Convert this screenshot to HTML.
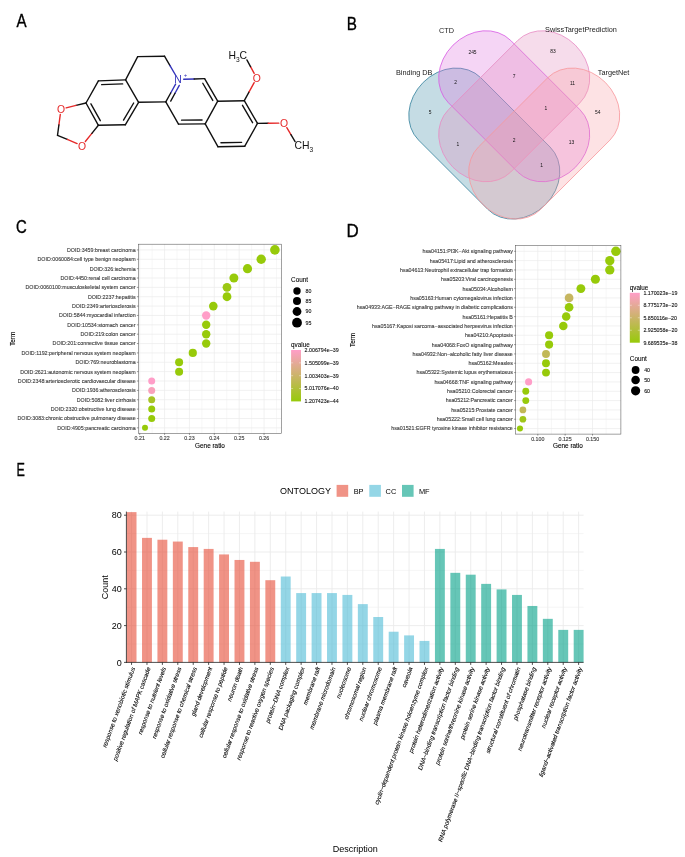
<!DOCTYPE html>
<html lang="en"><head><meta charset="utf-8"><title>Figure</title>
<style>
html,body{margin:0;padding:0;background:#fff;}
body{width:685px;height:857px;overflow:hidden;}
svg{display:block;}
text{font-family:"Liberation Sans", sans-serif;}
.pl{font-size:18.4px;fill:#000;stroke:#000;stroke-width:0.35px;}
.at{font-size:10.4px;}
</style></head><body>
<svg width="685" height="857" viewBox="0 0 685 857">
<rect width="685" height="857" fill="#ffffff"/>
<text class="pl" x="16.6" y="27.0" textLength="10.1" lengthAdjust="spacingAndGlyphs">A</text>
<text class="pl" x="346.7" y="29.8" textLength="10.2" lengthAdjust="spacingAndGlyphs">B</text>
<text class="pl" x="15.9" y="233.0" textLength="10.75" lengthAdjust="spacingAndGlyphs">C</text>
<text class="pl" x="346.6" y="237.0" textLength="12.2" lengthAdjust="spacingAndGlyphs">D</text>
<text class="pl" x="16.4" y="475.7" textLength="8.4" lengthAdjust="spacingAndGlyphs">E</text>
<g stroke-width="1.38" stroke-linecap="round" fill="none">
<line x1="98.40" y1="80.90" x2="125.60" y2="79.90" stroke="#111111"/>
<line x1="101.64" y1="84.68" x2="122.65" y2="83.91" stroke="#111111"/>
<line x1="125.60" y1="79.90" x2="138.60" y2="102.30" stroke="#111111"/>
<line x1="138.60" y1="102.30" x2="125.30" y2="124.80" stroke="#111111"/>
<line x1="133.67" y1="102.98" x2="123.52" y2="120.15" stroke="#111111"/>
<line x1="125.30" y1="124.80" x2="98.40" y2="125.30" stroke="#111111"/>
<line x1="98.40" y1="125.30" x2="86.00" y2="103.00" stroke="#111111"/>
<line x1="100.30" y1="120.70" x2="90.92" y2="103.81" stroke="#111111"/>
<line x1="86.00" y1="103.00" x2="98.40" y2="80.90" stroke="#111111"/>
<line x1="125.60" y1="79.90" x2="137.70" y2="56.60" stroke="#111111"/>
<line x1="137.70" y1="56.60" x2="164.50" y2="56.20" stroke="#111111"/>
<line x1="164.50" y1="56.20" x2="169.99" y2="65.60" stroke="#111111"/>
<line x1="169.99" y1="65.60" x2="175.48" y2="75.01" stroke="#3333bb"/>
<line x1="175.60" y1="84.06" x2="170.70" y2="92.98" stroke="#3333bb"/>
<line x1="170.70" y1="92.98" x2="165.80" y2="101.90" stroke="#111111"/>
<line x1="179.30" y1="85.41" x2="175.01" y2="93.23" stroke="#3333bb"/>
<line x1="175.01" y1="93.23" x2="170.71" y2="101.06" stroke="#111111"/>
<line x1="165.80" y1="101.90" x2="138.60" y2="102.30" stroke="#111111"/>
<line x1="183.70" y1="79.31" x2="194.15" y2="78.95" stroke="#3333bb"/>
<line x1="194.15" y1="78.95" x2="204.60" y2="78.60" stroke="#111111"/>
<line x1="204.60" y1="78.60" x2="217.70" y2="101.20" stroke="#111111"/>
<line x1="202.78" y1="83.24" x2="212.77" y2="100.47" stroke="#111111"/>
<line x1="217.70" y1="101.20" x2="205.20" y2="123.90" stroke="#111111"/>
<line x1="205.20" y1="123.90" x2="178.50" y2="124.10" stroke="#111111"/>
<line x1="202.07" y1="120.02" x2="181.57" y2="120.18" stroke="#111111"/>
<line x1="178.50" y1="124.10" x2="165.80" y2="101.90" stroke="#111111"/>
<line x1="217.70" y1="101.20" x2="244.30" y2="100.70" stroke="#111111"/>
<line x1="244.30" y1="100.70" x2="257.50" y2="123.40" stroke="#111111"/>
<line x1="242.49" y1="105.34" x2="252.57" y2="122.68" stroke="#111111"/>
<line x1="257.50" y1="123.40" x2="244.80" y2="146.20" stroke="#111111"/>
<line x1="244.80" y1="146.20" x2="217.90" y2="146.70" stroke="#111111"/>
<line x1="241.63" y1="142.36" x2="220.93" y2="142.74" stroke="#111111"/>
<line x1="217.90" y1="146.70" x2="205.20" y2="123.90" stroke="#111111"/>
<line x1="244.30" y1="100.70" x2="249.23" y2="91.68" stroke="#111111"/>
<line x1="249.23" y1="91.68" x2="254.16" y2="82.65" stroke="#e52828"/>
<line x1="254.17" y1="73.34" x2="250.53" y2="66.61" stroke="#e52828"/>
<line x1="250.53" y1="66.61" x2="246.88" y2="59.88" stroke="#111111"/>
<line x1="257.50" y1="123.40" x2="268.15" y2="123.28" stroke="#111111"/>
<line x1="268.15" y1="123.28" x2="278.80" y2="123.16" stroke="#e52828"/>
<line x1="286.81" y1="127.65" x2="290.95" y2="134.60" stroke="#e52828"/>
<line x1="290.95" y1="134.60" x2="295.09" y2="141.54" stroke="#111111"/>
<line x1="86.00" y1="103.00" x2="76.07" y2="105.42" stroke="#111111"/>
<line x1="76.07" y1="105.42" x2="66.15" y2="107.84" stroke="#e52828"/>
<line x1="60.30" y1="114.35" x2="58.90" y2="124.83" stroke="#e52828"/>
<line x1="58.90" y1="124.83" x2="57.50" y2="135.30" stroke="#111111"/>
<line x1="57.50" y1="135.30" x2="67.31" y2="139.42" stroke="#111111"/>
<line x1="67.31" y1="139.42" x2="77.11" y2="143.55" stroke="#e52828"/>
<line x1="85.33" y1="141.48" x2="91.87" y2="133.39" stroke="#e52828"/>
<line x1="91.87" y1="133.39" x2="98.40" y2="125.30" stroke="#111111"/>
</g>
<text class="at" x="256.70" y="81.90" fill="#e52828" text-anchor="middle">O</text>
<text class="at" x="284.10" y="127.00" fill="#e52828" text-anchor="middle">O</text>
<text class="at" x="61.00" y="113.00" fill="#e52828" text-anchor="middle">O</text>
<text class="at" x="82.00" y="149.50" fill="#e52828" text-anchor="middle">O</text>
<text class="at" x="178.10" y="83.40" fill="#3333bb" text-anchor="middle">N</text>
<text x="183.70" y="76.60" fill="#3333bb" font-size="6" >+</text>
<text class="at" x="247.1" y="59.2" fill="#111111" text-anchor="end">H<tspan font-size="6.6" dy="2.6">3</tspan><tspan dy="-2.6">C</tspan></text>
<text class="at" x="294.4" y="149.4" fill="#111111">CH<tspan font-size="6.6" dy="2.6">3</tspan></text>
<g>
<rect x="-86.45" y="-44.05" width="172.90" height="88.10" rx="37.5" ry="44.05" transform="translate(484.30 143.55) rotate(45)" fill="rgba(62,138,165,0.3)" stroke="rgba(50,128,155,0.95)" stroke-width="0.8"/>
<rect x="-86.45" y="-44.05" width="172.90" height="88.10" rx="37.5" ry="44.05" transform="translate(514.20 106.25) rotate(45)" fill="rgba(222,115,222,0.3)" stroke="rgba(215,90,228,0.95)" stroke-width="0.8"/>
<rect x="-86.45" y="-44.05" width="172.90" height="88.10" rx="37.5" ry="44.05" transform="translate(514.20 106.25) rotate(-45)" fill="rgba(226,138,190,0.3)" stroke="rgba(231,138,195,0.95)" stroke-width="0.8"/>
<rect x="-86.45" y="-44.05" width="172.90" height="88.10" rx="37.5" ry="44.05" transform="translate(544.20 143.55) rotate(-45)" fill="rgba(250,160,165,0.3)" stroke="rgba(248,150,155,0.95)" stroke-width="0.8"/>
</g>
<g font-size="7.3" fill="#222" text-anchor="middle">
<text x="446.6" y="32.7">CTD</text>
<text x="581.0" y="32.4">SwissTargetPrediction</text>
<text x="414.2" y="75.0">Binding DB</text>
<text x="613.6" y="75.0">TargetNet</text>
</g>
<g font-size="4.9" fill="#111" text-anchor="middle">
<text x="472.5" y="54.1">245</text>
<text x="553.1" y="52.5">83</text>
<text x="514.1" y="78.0">7</text>
<text x="455.7" y="84.0">2</text>
<text x="572.5" y="84.7">11</text>
<text x="430.1" y="113.5">5</text>
<text x="545.8" y="109.8">1</text>
<text x="597.7" y="113.5">54</text>
<text x="457.9" y="145.9">1</text>
<text x="514.1" y="141.6">2</text>
<text x="571.4" y="144.2">13</text>
<text x="541.5" y="167.2">1</text>
</g>
<g stroke="#ebebeb" fill="none">
<line x1="152.13" y1="244.2" x2="152.13" y2="433.4" stroke-width="0.4"/>
<line x1="177.01" y1="244.2" x2="177.01" y2="433.4" stroke-width="0.4"/>
<line x1="201.87" y1="244.2" x2="201.87" y2="433.4" stroke-width="0.4"/>
<line x1="226.75" y1="244.2" x2="226.75" y2="433.4" stroke-width="0.4"/>
<line x1="251.62" y1="244.2" x2="251.62" y2="433.4" stroke-width="0.4"/>
<line x1="276.49" y1="244.2" x2="276.49" y2="433.4" stroke-width="0.4"/>
<line x1="139.70" y1="244.2" x2="139.70" y2="433.4" stroke-width="0.7"/>
<line x1="164.57" y1="244.2" x2="164.57" y2="433.4" stroke-width="0.7"/>
<line x1="189.44" y1="244.2" x2="189.44" y2="433.4" stroke-width="0.7"/>
<line x1="214.31" y1="244.2" x2="214.31" y2="433.4" stroke-width="0.7"/>
<line x1="239.18" y1="244.2" x2="239.18" y2="433.4" stroke-width="0.7"/>
<line x1="264.05" y1="244.2" x2="264.05" y2="433.4" stroke-width="0.7"/>
<line x1="138.4" y1="249.90" x2="281.4" y2="249.90" stroke-width="0.7"/>
<line x1="138.4" y1="259.26" x2="281.4" y2="259.26" stroke-width="0.7"/>
<line x1="138.4" y1="268.63" x2="281.4" y2="268.63" stroke-width="0.7"/>
<line x1="138.4" y1="278.00" x2="281.4" y2="278.00" stroke-width="0.7"/>
<line x1="138.4" y1="287.36" x2="281.4" y2="287.36" stroke-width="0.7"/>
<line x1="138.4" y1="296.73" x2="281.4" y2="296.73" stroke-width="0.7"/>
<line x1="138.4" y1="306.09" x2="281.4" y2="306.09" stroke-width="0.7"/>
<line x1="138.4" y1="315.46" x2="281.4" y2="315.46" stroke-width="0.7"/>
<line x1="138.4" y1="324.82" x2="281.4" y2="324.82" stroke-width="0.7"/>
<line x1="138.4" y1="334.19" x2="281.4" y2="334.19" stroke-width="0.7"/>
<line x1="138.4" y1="343.55" x2="281.4" y2="343.55" stroke-width="0.7"/>
<line x1="138.4" y1="352.92" x2="281.4" y2="352.92" stroke-width="0.7"/>
<line x1="138.4" y1="362.28" x2="281.4" y2="362.28" stroke-width="0.7"/>
<line x1="138.4" y1="371.64" x2="281.4" y2="371.64" stroke-width="0.7"/>
<line x1="138.4" y1="381.01" x2="281.4" y2="381.01" stroke-width="0.7"/>
<line x1="138.4" y1="390.38" x2="281.4" y2="390.38" stroke-width="0.7"/>
<line x1="138.4" y1="399.74" x2="281.4" y2="399.74" stroke-width="0.7"/>
<line x1="138.4" y1="409.11" x2="281.4" y2="409.11" stroke-width="0.7"/>
<line x1="138.4" y1="418.47" x2="281.4" y2="418.47" stroke-width="0.7"/>
<line x1="138.4" y1="427.84" x2="281.4" y2="427.84" stroke-width="0.7"/>
</g>
<circle cx="274.90" cy="249.90" r="4.80" fill="rgb(151,202,10)"/>
<circle cx="261.20" cy="259.26" r="4.70" fill="rgb(151,202,10)"/>
<circle cx="247.50" cy="268.63" r="4.60" fill="rgb(151,202,10)"/>
<circle cx="233.90" cy="278.00" r="4.50" fill="rgb(151,202,10)"/>
<circle cx="227.00" cy="287.36" r="4.40" fill="rgb(156,200,20)"/>
<circle cx="227.00" cy="296.73" r="4.40" fill="rgb(151,202,10)"/>
<circle cx="213.30" cy="306.09" r="4.30" fill="rgb(151,202,10)"/>
<circle cx="206.20" cy="315.46" r="4.20" fill="rgb(255,158,200)"/>
<circle cx="206.20" cy="324.82" r="4.20" fill="rgb(151,202,10)"/>
<circle cx="206.20" cy="334.19" r="4.20" fill="rgb(151,202,10)"/>
<circle cx="206.20" cy="343.55" r="4.20" fill="rgb(151,202,10)"/>
<circle cx="192.80" cy="352.92" r="4.10" fill="rgb(151,202,10)"/>
<circle cx="179.10" cy="362.28" r="4.00" fill="rgb(151,202,10)"/>
<circle cx="179.10" cy="371.64" r="4.00" fill="rgb(151,202,10)"/>
<circle cx="151.70" cy="381.01" r="3.50" fill="rgb(255,158,200)"/>
<circle cx="151.70" cy="390.38" r="3.50" fill="rgb(248,161,187)"/>
<circle cx="151.70" cy="399.74" r="3.50" fill="rgb(167,195,38)"/>
<circle cx="151.70" cy="409.11" r="3.50" fill="rgb(151,202,10)"/>
<circle cx="151.70" cy="418.47" r="3.50" fill="rgb(151,202,10)"/>
<circle cx="145.00" cy="427.84" r="3.00" fill="rgb(151,202,10)"/>
<rect x="138.4" y="244.2" width="143.00" height="189.20" fill="none" stroke="#555" stroke-width="0.55"/>
<g stroke="#333" stroke-width="0.5">
<line x1="136.90" y1="249.90" x2="138.4" y2="249.90"/>
<line x1="136.90" y1="259.26" x2="138.4" y2="259.26"/>
<line x1="136.90" y1="268.63" x2="138.4" y2="268.63"/>
<line x1="136.90" y1="278.00" x2="138.4" y2="278.00"/>
<line x1="136.90" y1="287.36" x2="138.4" y2="287.36"/>
<line x1="136.90" y1="296.73" x2="138.4" y2="296.73"/>
<line x1="136.90" y1="306.09" x2="138.4" y2="306.09"/>
<line x1="136.90" y1="315.46" x2="138.4" y2="315.46"/>
<line x1="136.90" y1="324.82" x2="138.4" y2="324.82"/>
<line x1="136.90" y1="334.19" x2="138.4" y2="334.19"/>
<line x1="136.90" y1="343.55" x2="138.4" y2="343.55"/>
<line x1="136.90" y1="352.92" x2="138.4" y2="352.92"/>
<line x1="136.90" y1="362.28" x2="138.4" y2="362.28"/>
<line x1="136.90" y1="371.64" x2="138.4" y2="371.64"/>
<line x1="136.90" y1="381.01" x2="138.4" y2="381.01"/>
<line x1="136.90" y1="390.38" x2="138.4" y2="390.38"/>
<line x1="136.90" y1="399.74" x2="138.4" y2="399.74"/>
<line x1="136.90" y1="409.11" x2="138.4" y2="409.11"/>
<line x1="136.90" y1="418.47" x2="138.4" y2="418.47"/>
<line x1="136.90" y1="427.84" x2="138.4" y2="427.84"/>
<line x1="139.70" y1="433.4" x2="139.70" y2="434.90"/>
<line x1="164.57" y1="433.4" x2="164.57" y2="434.90"/>
<line x1="189.44" y1="433.4" x2="189.44" y2="434.90"/>
<line x1="214.31" y1="433.4" x2="214.31" y2="434.90"/>
<line x1="239.18" y1="433.4" x2="239.18" y2="434.90"/>
<line x1="264.05" y1="433.4" x2="264.05" y2="434.90"/>
</g>
<g font-size="5.3" fill="#3d3d3d" stroke="#3d3d3d" stroke-width="0.12" text-anchor="end">
<text x="135.60" y="251.81">DOID:3459:breast carcinoma</text>
<text x="135.60" y="261.17">DOID:0060084:cell type benign neoplasm</text>
<text x="135.60" y="270.54">DOID:326:ischemia</text>
<text x="135.60" y="279.90">DOID:4450:renal cell carcinoma</text>
<text x="135.60" y="289.27">DOID:0060100:musculoskeletal system cancer</text>
<text x="135.60" y="298.63">DOID:2237:hepatitis</text>
<text x="135.60" y="308.00">DOID:2349:arteriosclerosis</text>
<text x="135.60" y="317.36">DOID:5844:myocardial infarction</text>
<text x="135.60" y="326.73">DOID:10534:stomach cancer</text>
<text x="135.60" y="336.09">DOID:219:colon cancer</text>
<text x="135.60" y="345.46">DOID:201:connective tissue cancer</text>
<text x="135.60" y="354.82">DOID:1192:peripheral nervous system neoplasm</text>
<text x="135.60" y="364.19">DOID:769:neuroblastoma</text>
<text x="135.60" y="373.55">DOID:2621:autonomic nervous system neoplasm</text>
<text x="135.60" y="382.92">DOID:2348:arteriosclerotic cardiovascular disease</text>
<text x="135.60" y="392.28">DOID:1936:atherosclerosis</text>
<text x="135.60" y="401.65">DOID:5082:liver cirrhosis</text>
<text x="135.60" y="411.01">DOID:2320:obstructive lung disease</text>
<text x="135.60" y="420.38">DOID:3083:chronic obstructive pulmonary disease</text>
<text x="135.60" y="429.74">DOID:4905:pancreatic carcinoma</text>
</g>
<g font-size="5.3" fill="#3d3d3d" stroke="#3d3d3d" stroke-width="0.12" text-anchor="middle">
<text x="139.70" y="440.22">0.21</text>
<text x="164.57" y="440.22">0.22</text>
<text x="189.44" y="440.22">0.23</text>
<text x="214.31" y="440.22">0.24</text>
<text x="239.18" y="440.22">0.25</text>
<text x="264.05" y="440.22">0.26</text>
</g>
<text x="210.0" y="447.9" font-size="6.4" text-anchor="middle" fill="#000" stroke="#000" stroke-width="0.1">Gene ratio</text>
<text transform="translate(14.9 338.8) rotate(-90)" font-size="6.3" text-anchor="middle" fill="#000" stroke="#000" stroke-width="0.1">Term</text>
<text x="291.1" y="281.9" font-size="6.4" fill="#000" stroke="#000" stroke-width="0.08">Count</text>
<circle cx="297.0" cy="291.0" r="3.7" fill="#000"/>
<text x="305.5" y="292.91" font-size="5.3" fill="#111" stroke="#111" stroke-width="0.1">80</text>
<circle cx="297.0" cy="301.1" r="4.0" fill="#000"/>
<text x="305.5" y="303.01" font-size="5.3" fill="#111" stroke="#111" stroke-width="0.1">85</text>
<circle cx="297.0" cy="311.5" r="4.4" fill="#000"/>
<text x="305.5" y="313.41" font-size="5.3" fill="#111" stroke="#111" stroke-width="0.1">90</text>
<circle cx="297.0" cy="322.7" r="4.9" fill="#000"/>
<text x="305.5" y="324.61" font-size="5.3" fill="#111" stroke="#111" stroke-width="0.1">95</text>
<text x="291.1" y="346.6" font-size="6.3" fill="#000" stroke="#000" stroke-width="0.08">qvalue</text>
<defs><linearGradient id="gc" x1="0" y1="0" x2="0" y2="1"><stop offset="0" stop-color="rgb(255,158,200)"/><stop offset="1" stop-color="rgb(151,202,10)"/></linearGradient></defs>
<rect x="291.1" y="350.0" width="9.90" height="51.40" fill="url(#gc)"/>
<text x="304.6" y="351.91" font-size="5.3" fill="#111" stroke="#111" stroke-width="0.1">2.006794e−39</text>
<line x1="291.1" y1="362.85" x2="293.1" y2="362.85" stroke="#fff" stroke-width="0.4"/>
<line x1="299.0" y1="362.85" x2="301.0" y2="362.85" stroke="#fff" stroke-width="0.4"/>
<text x="304.6" y="364.76" font-size="5.3" fill="#111" stroke="#111" stroke-width="0.1">1.505099e−39</text>
<line x1="291.1" y1="375.70" x2="293.1" y2="375.70" stroke="#fff" stroke-width="0.4"/>
<line x1="299.0" y1="375.70" x2="301.0" y2="375.70" stroke="#fff" stroke-width="0.4"/>
<text x="304.6" y="377.61" font-size="5.3" fill="#111" stroke="#111" stroke-width="0.1">1.003403e−39</text>
<line x1="291.1" y1="388.55" x2="293.1" y2="388.55" stroke="#fff" stroke-width="0.4"/>
<line x1="299.0" y1="388.55" x2="301.0" y2="388.55" stroke="#fff" stroke-width="0.4"/>
<text x="304.6" y="390.46" font-size="5.3" fill="#111" stroke="#111" stroke-width="0.1">5.017076e−40</text>
<text x="304.6" y="403.31" font-size="5.3" fill="#111" stroke="#111" stroke-width="0.1">1.207423e−44</text>
<g stroke="#ebebeb" fill="none">
<line x1="524.12" y1="245.7" x2="524.12" y2="434.1" stroke-width="0.4"/>
<line x1="551.47" y1="245.7" x2="551.47" y2="434.1" stroke-width="0.4"/>
<line x1="578.82" y1="245.7" x2="578.82" y2="434.1" stroke-width="0.4"/>
<line x1="606.17" y1="245.7" x2="606.17" y2="434.1" stroke-width="0.4"/>
<line x1="537.80" y1="245.7" x2="537.80" y2="434.1" stroke-width="0.7"/>
<line x1="565.15" y1="245.7" x2="565.15" y2="434.1" stroke-width="0.7"/>
<line x1="592.50" y1="245.7" x2="592.50" y2="434.1" stroke-width="0.7"/>
<line x1="515.6" y1="251.30" x2="620.9" y2="251.30" stroke-width="0.7"/>
<line x1="515.6" y1="260.63" x2="620.9" y2="260.63" stroke-width="0.7"/>
<line x1="515.6" y1="269.96" x2="620.9" y2="269.96" stroke-width="0.7"/>
<line x1="515.6" y1="279.29" x2="620.9" y2="279.29" stroke-width="0.7"/>
<line x1="515.6" y1="288.62" x2="620.9" y2="288.62" stroke-width="0.7"/>
<line x1="515.6" y1="297.95" x2="620.9" y2="297.95" stroke-width="0.7"/>
<line x1="515.6" y1="307.28" x2="620.9" y2="307.28" stroke-width="0.7"/>
<line x1="515.6" y1="316.61" x2="620.9" y2="316.61" stroke-width="0.7"/>
<line x1="515.6" y1="325.94" x2="620.9" y2="325.94" stroke-width="0.7"/>
<line x1="515.6" y1="335.27" x2="620.9" y2="335.27" stroke-width="0.7"/>
<line x1="515.6" y1="344.60" x2="620.9" y2="344.60" stroke-width="0.7"/>
<line x1="515.6" y1="353.93" x2="620.9" y2="353.93" stroke-width="0.7"/>
<line x1="515.6" y1="363.26" x2="620.9" y2="363.26" stroke-width="0.7"/>
<line x1="515.6" y1="372.59" x2="620.9" y2="372.59" stroke-width="0.7"/>
<line x1="515.6" y1="381.92" x2="620.9" y2="381.92" stroke-width="0.7"/>
<line x1="515.6" y1="391.25" x2="620.9" y2="391.25" stroke-width="0.7"/>
<line x1="515.6" y1="400.58" x2="620.9" y2="400.58" stroke-width="0.7"/>
<line x1="515.6" y1="409.91" x2="620.9" y2="409.91" stroke-width="0.7"/>
<line x1="515.6" y1="419.24" x2="620.9" y2="419.24" stroke-width="0.7"/>
<line x1="515.6" y1="428.57" x2="620.9" y2="428.57" stroke-width="0.7"/>
</g>
<circle cx="615.90" cy="251.30" r="4.75" fill="rgb(151,202,10)"/>
<circle cx="609.80" cy="260.63" r="4.65" fill="rgb(151,202,10)"/>
<circle cx="609.80" cy="269.96" r="4.65" fill="rgb(151,202,10)"/>
<circle cx="595.40" cy="279.29" r="4.55" fill="rgb(151,202,10)"/>
<circle cx="580.90" cy="288.62" r="4.45" fill="rgb(151,202,10)"/>
<circle cx="569.10" cy="297.95" r="4.35" fill="rgb(198,182,96)"/>
<circle cx="569.10" cy="307.28" r="4.35" fill="rgb(151,202,10)"/>
<circle cx="566.20" cy="316.61" r="4.25" fill="rgb(151,202,10)"/>
<circle cx="563.30" cy="325.94" r="4.25" fill="rgb(151,202,10)"/>
<circle cx="549.10" cy="335.27" r="4.05" fill="rgb(151,202,10)"/>
<circle cx="549.10" cy="344.60" r="4.05" fill="rgb(151,202,10)"/>
<circle cx="546.00" cy="353.93" r="3.95" fill="rgb(193,184,86)"/>
<circle cx="546.00" cy="363.26" r="3.95" fill="rgb(151,202,10)"/>
<circle cx="546.00" cy="372.59" r="3.95" fill="rgb(151,202,10)"/>
<circle cx="528.60" cy="381.92" r="3.55" fill="rgb(255,158,200)"/>
<circle cx="525.80" cy="391.25" r="3.45" fill="rgb(151,202,10)"/>
<circle cx="525.80" cy="400.58" r="3.45" fill="rgb(151,202,10)"/>
<circle cx="522.90" cy="409.91" r="3.35" fill="rgb(193,184,86)"/>
<circle cx="522.90" cy="419.24" r="3.35" fill="rgb(159,198,25)"/>
<circle cx="520.00" cy="428.57" r="3.05" fill="rgb(151,202,10)"/>
<rect x="515.6" y="245.7" width="105.30" height="188.40" fill="none" stroke="#555" stroke-width="0.55"/>
<g stroke="#333" stroke-width="0.5">
<line x1="514.10" y1="251.30" x2="515.6" y2="251.30"/>
<line x1="514.10" y1="260.63" x2="515.6" y2="260.63"/>
<line x1="514.10" y1="269.96" x2="515.6" y2="269.96"/>
<line x1="514.10" y1="279.29" x2="515.6" y2="279.29"/>
<line x1="514.10" y1="288.62" x2="515.6" y2="288.62"/>
<line x1="514.10" y1="297.95" x2="515.6" y2="297.95"/>
<line x1="514.10" y1="307.28" x2="515.6" y2="307.28"/>
<line x1="514.10" y1="316.61" x2="515.6" y2="316.61"/>
<line x1="514.10" y1="325.94" x2="515.6" y2="325.94"/>
<line x1="514.10" y1="335.27" x2="515.6" y2="335.27"/>
<line x1="514.10" y1="344.60" x2="515.6" y2="344.60"/>
<line x1="514.10" y1="353.93" x2="515.6" y2="353.93"/>
<line x1="514.10" y1="363.26" x2="515.6" y2="363.26"/>
<line x1="514.10" y1="372.59" x2="515.6" y2="372.59"/>
<line x1="514.10" y1="381.92" x2="515.6" y2="381.92"/>
<line x1="514.10" y1="391.25" x2="515.6" y2="391.25"/>
<line x1="514.10" y1="400.58" x2="515.6" y2="400.58"/>
<line x1="514.10" y1="409.91" x2="515.6" y2="409.91"/>
<line x1="514.10" y1="419.24" x2="515.6" y2="419.24"/>
<line x1="514.10" y1="428.57" x2="515.6" y2="428.57"/>
<line x1="537.80" y1="434.1" x2="537.80" y2="435.60"/>
<line x1="565.15" y1="434.1" x2="565.15" y2="435.60"/>
<line x1="592.50" y1="434.1" x2="592.50" y2="435.60"/>
</g>
<g font-size="5.29" fill="#3d3d3d" stroke="#3d3d3d" stroke-width="0.12" text-anchor="end">
<text x="512.80" y="253.20">hsa04151:PI3K−Akt signaling pathway</text>
<text x="512.80" y="262.53">hsa05417:Lipid and atherosclerosis</text>
<text x="512.80" y="271.86">hsa04613:Neutrophil extracellular trap formation</text>
<text x="512.80" y="281.19">hsa05203:Viral carcinogenesis</text>
<text x="512.80" y="290.52">hsa05034:Alcoholism</text>
<text x="512.80" y="299.85">hsa05163:Human cytomegalovirus infection</text>
<text x="512.80" y="309.18">hsa04933:AGE−RAGE signaling pathway in diabetic complications</text>
<text x="512.80" y="318.51">hsa05161:Hepatitis B</text>
<text x="512.80" y="327.84">hsa05167:Kaposi sarcoma−associated herpesvirus infection</text>
<text x="512.80" y="337.17">hsa04210:Apoptosis</text>
<text x="512.80" y="346.50">hsa04068:FoxO signaling pathway</text>
<text x="512.80" y="355.83">hsa04932:Non−alcoholic fatty liver disease</text>
<text x="512.80" y="365.16">hsa05162:Measles</text>
<text x="512.80" y="374.49">hsa05322:Systemic lupus erythematosus</text>
<text x="512.80" y="383.82">hsa04668:TNF signaling pathway</text>
<text x="512.80" y="393.15">hsa05210:Colorectal cancer</text>
<text x="512.80" y="402.48">hsa05212:Pancreatic cancer</text>
<text x="512.80" y="411.81">hsa05215:Prostate cancer</text>
<text x="512.80" y="421.14">hsa05222:Small cell lung cancer</text>
<text x="512.80" y="430.47">hsa01521:EGFR tyrosine kinase inhibitor resistance</text>
</g>
<g font-size="5.29" fill="#3d3d3d" stroke="#3d3d3d" stroke-width="0.12" text-anchor="middle">
<text x="537.80" y="440.91">0.100</text>
<text x="565.15" y="440.91">0.125</text>
<text x="592.50" y="440.91">0.150</text>
</g>
<text x="567.9" y="448.2" font-size="6.4" text-anchor="middle" fill="#000" stroke="#000" stroke-width="0.1">Gene ratio</text>
<text transform="translate(354.7 339.9) rotate(-90)" font-size="6.3" text-anchor="middle" fill="#000" stroke="#000" stroke-width="0.1">Term</text>
<text x="629.8" y="361.3" font-size="6.4" fill="#000" stroke="#000" stroke-width="0.08">Count</text>
<circle cx="635.6" cy="370.0" r="3.9" fill="#000"/>
<text x="644.2" y="371.90" font-size="5.29" fill="#111" stroke="#111" stroke-width="0.1">40</text>
<circle cx="635.6" cy="380.0" r="4.3" fill="#000"/>
<text x="644.2" y="381.90" font-size="5.29" fill="#111" stroke="#111" stroke-width="0.1">50</text>
<circle cx="635.6" cy="390.8" r="4.6" fill="#000"/>
<text x="644.2" y="392.70" font-size="5.29" fill="#111" stroke="#111" stroke-width="0.1">60</text>
<text x="629.8" y="289.5" font-size="6.3" fill="#000" stroke="#000" stroke-width="0.08">qvalue</text>
<defs><linearGradient id="gd" x1="0" y1="0" x2="0" y2="1"><stop offset="0" stop-color="rgb(255,158,200)"/><stop offset="1" stop-color="rgb(151,202,10)"/></linearGradient></defs>
<rect x="629.8" y="292.8" width="10.00" height="49.90" fill="url(#gd)"/>
<text x="643.4" y="294.70" font-size="5.29" fill="#111" stroke="#111" stroke-width="0.1">1.170023e−19</text>
<line x1="629.8" y1="305.27" x2="631.8" y2="305.27" stroke="#fff" stroke-width="0.4"/>
<line x1="637.8" y1="305.27" x2="639.8" y2="305.27" stroke="#fff" stroke-width="0.4"/>
<text x="643.4" y="307.18" font-size="5.29" fill="#111" stroke="#111" stroke-width="0.1">8.775173e−20</text>
<line x1="629.8" y1="317.75" x2="631.8" y2="317.75" stroke="#fff" stroke-width="0.4"/>
<line x1="637.8" y1="317.75" x2="639.8" y2="317.75" stroke="#fff" stroke-width="0.4"/>
<text x="643.4" y="319.65" font-size="5.29" fill="#111" stroke="#111" stroke-width="0.1">5.850116e−20</text>
<line x1="629.8" y1="330.23" x2="631.8" y2="330.23" stroke="#fff" stroke-width="0.4"/>
<line x1="637.8" y1="330.23" x2="639.8" y2="330.23" stroke="#fff" stroke-width="0.4"/>
<text x="643.4" y="332.13" font-size="5.29" fill="#111" stroke="#111" stroke-width="0.1">2.925058e−20</text>
<text x="643.4" y="344.60" font-size="5.29" fill="#111" stroke="#111" stroke-width="0.1">9.689535e−38</text>
<rect x="344" y="328" width="5.7" height="24" fill="#fff"/>
<g fill="none">
<line x1="126.4" y1="644.00" x2="583.6" y2="644.00" stroke="#eeeeee" stroke-width="0.6"/>
<line x1="126.4" y1="607.20" x2="583.6" y2="607.20" stroke="#eeeeee" stroke-width="0.6"/>
<line x1="126.4" y1="570.40" x2="583.6" y2="570.40" stroke="#eeeeee" stroke-width="0.6"/>
<line x1="126.4" y1="533.60" x2="583.6" y2="533.60" stroke="#eeeeee" stroke-width="0.6"/>
<line x1="126.4" y1="625.60" x2="583.6" y2="625.60" stroke="#ebebeb" stroke-width="0.9"/>
<line x1="126.4" y1="588.80" x2="583.6" y2="588.80" stroke="#ebebeb" stroke-width="0.9"/>
<line x1="126.4" y1="552.00" x2="583.6" y2="552.00" stroke="#ebebeb" stroke-width="0.9"/>
<line x1="126.4" y1="515.20" x2="583.6" y2="515.20" stroke="#ebebeb" stroke-width="0.9"/>
<line x1="131.55" y1="511.6" x2="131.55" y2="662.4" stroke="#ebebeb" stroke-width="0.9"/>
<line x1="146.97" y1="511.6" x2="146.97" y2="662.4" stroke="#ebebeb" stroke-width="0.9"/>
<line x1="162.38" y1="511.6" x2="162.38" y2="662.4" stroke="#ebebeb" stroke-width="0.9"/>
<line x1="177.80" y1="511.6" x2="177.80" y2="662.4" stroke="#ebebeb" stroke-width="0.9"/>
<line x1="193.22" y1="511.6" x2="193.22" y2="662.4" stroke="#ebebeb" stroke-width="0.9"/>
<line x1="208.63" y1="511.6" x2="208.63" y2="662.4" stroke="#ebebeb" stroke-width="0.9"/>
<line x1="224.05" y1="511.6" x2="224.05" y2="662.4" stroke="#ebebeb" stroke-width="0.9"/>
<line x1="239.47" y1="511.6" x2="239.47" y2="662.4" stroke="#ebebeb" stroke-width="0.9"/>
<line x1="254.89" y1="511.6" x2="254.89" y2="662.4" stroke="#ebebeb" stroke-width="0.9"/>
<line x1="270.30" y1="511.6" x2="270.30" y2="662.4" stroke="#ebebeb" stroke-width="0.9"/>
<line x1="285.72" y1="511.6" x2="285.72" y2="662.4" stroke="#ebebeb" stroke-width="0.9"/>
<line x1="301.14" y1="511.6" x2="301.14" y2="662.4" stroke="#ebebeb" stroke-width="0.9"/>
<line x1="316.55" y1="511.6" x2="316.55" y2="662.4" stroke="#ebebeb" stroke-width="0.9"/>
<line x1="331.97" y1="511.6" x2="331.97" y2="662.4" stroke="#ebebeb" stroke-width="0.9"/>
<line x1="347.39" y1="511.6" x2="347.39" y2="662.4" stroke="#ebebeb" stroke-width="0.9"/>
<line x1="362.81" y1="511.6" x2="362.81" y2="662.4" stroke="#ebebeb" stroke-width="0.9"/>
<line x1="378.22" y1="511.6" x2="378.22" y2="662.4" stroke="#ebebeb" stroke-width="0.9"/>
<line x1="393.64" y1="511.6" x2="393.64" y2="662.4" stroke="#ebebeb" stroke-width="0.9"/>
<line x1="409.06" y1="511.6" x2="409.06" y2="662.4" stroke="#ebebeb" stroke-width="0.9"/>
<line x1="424.47" y1="511.6" x2="424.47" y2="662.4" stroke="#ebebeb" stroke-width="0.9"/>
<line x1="439.89" y1="511.6" x2="439.89" y2="662.4" stroke="#ebebeb" stroke-width="0.9"/>
<line x1="455.31" y1="511.6" x2="455.31" y2="662.4" stroke="#ebebeb" stroke-width="0.9"/>
<line x1="470.72" y1="511.6" x2="470.72" y2="662.4" stroke="#ebebeb" stroke-width="0.9"/>
<line x1="486.14" y1="511.6" x2="486.14" y2="662.4" stroke="#ebebeb" stroke-width="0.9"/>
<line x1="501.56" y1="511.6" x2="501.56" y2="662.4" stroke="#ebebeb" stroke-width="0.9"/>
<line x1="516.98" y1="511.6" x2="516.98" y2="662.4" stroke="#ebebeb" stroke-width="0.9"/>
<line x1="532.39" y1="511.6" x2="532.39" y2="662.4" stroke="#ebebeb" stroke-width="0.9"/>
<line x1="547.81" y1="511.6" x2="547.81" y2="662.4" stroke="#ebebeb" stroke-width="0.9"/>
<line x1="563.23" y1="511.6" x2="563.23" y2="662.4" stroke="#ebebeb" stroke-width="0.9"/>
<line x1="578.64" y1="511.6" x2="578.64" y2="662.4" stroke="#ebebeb" stroke-width="0.9"/>
</g>
<rect x="126.60" y="512.12" width="9.9" height="150.28" fill="rgba(230,75,53,0.6)"/>
<rect x="142.02" y="537.88" width="9.9" height="124.52" fill="rgba(230,75,53,0.6)"/>
<rect x="157.43" y="539.72" width="9.9" height="122.68" fill="rgba(230,75,53,0.6)"/>
<rect x="172.85" y="541.56" width="9.9" height="120.84" fill="rgba(230,75,53,0.6)"/>
<rect x="188.27" y="547.08" width="9.9" height="115.32" fill="rgba(230,75,53,0.6)"/>
<rect x="203.69" y="548.92" width="9.9" height="113.48" fill="rgba(230,75,53,0.6)"/>
<rect x="219.10" y="554.44" width="9.9" height="107.96" fill="rgba(230,75,53,0.6)"/>
<rect x="234.52" y="559.96" width="9.9" height="102.44" fill="rgba(230,75,53,0.6)"/>
<rect x="249.94" y="561.80" width="9.9" height="100.60" fill="rgba(230,75,53,0.6)"/>
<rect x="265.35" y="580.20" width="9.9" height="82.20" fill="rgba(230,75,53,0.6)"/>
<rect x="280.77" y="576.52" width="9.9" height="85.88" fill="rgba(77,187,213,0.6)"/>
<rect x="296.19" y="593.08" width="9.9" height="69.32" fill="rgba(77,187,213,0.6)"/>
<rect x="311.60" y="593.08" width="9.9" height="69.32" fill="rgba(77,187,213,0.6)"/>
<rect x="327.02" y="593.08" width="9.9" height="69.32" fill="rgba(77,187,213,0.6)"/>
<rect x="342.44" y="594.92" width="9.9" height="67.48" fill="rgba(77,187,213,0.6)"/>
<rect x="357.86" y="604.12" width="9.9" height="58.28" fill="rgba(77,187,213,0.6)"/>
<rect x="373.27" y="617.00" width="9.9" height="45.40" fill="rgba(77,187,213,0.6)"/>
<rect x="388.69" y="631.72" width="9.9" height="30.68" fill="rgba(77,187,213,0.6)"/>
<rect x="404.11" y="635.40" width="9.9" height="27.00" fill="rgba(77,187,213,0.6)"/>
<rect x="419.52" y="640.92" width="9.9" height="21.48" fill="rgba(77,187,213,0.6)"/>
<rect x="434.94" y="548.92" width="9.9" height="113.48" fill="rgba(0,160,135,0.6)"/>
<rect x="450.36" y="572.84" width="9.9" height="89.56" fill="rgba(0,160,135,0.6)"/>
<rect x="465.77" y="574.68" width="9.9" height="87.72" fill="rgba(0,160,135,0.6)"/>
<rect x="481.19" y="583.88" width="9.9" height="78.52" fill="rgba(0,160,135,0.6)"/>
<rect x="496.61" y="589.40" width="9.9" height="73.00" fill="rgba(0,160,135,0.6)"/>
<rect x="512.02" y="594.92" width="9.9" height="67.48" fill="rgba(0,160,135,0.6)"/>
<rect x="527.44" y="605.96" width="9.9" height="56.44" fill="rgba(0,160,135,0.6)"/>
<rect x="542.86" y="618.84" width="9.9" height="43.56" fill="rgba(0,160,135,0.6)"/>
<rect x="558.28" y="629.88" width="9.9" height="32.52" fill="rgba(0,160,135,0.6)"/>
<rect x="573.69" y="629.88" width="9.9" height="32.52" fill="rgba(0,160,135,0.6)"/>
<line x1="126.4" y1="511.6" x2="126.4" y2="662.9" stroke="#222" stroke-width="0.8"/>
<line x1="126.0" y1="662.4" x2="583.6" y2="662.4" stroke="#222" stroke-width="0.8"/>
<g stroke="#222" stroke-width="0.8">
<line x1="124.0" y1="662.40" x2="126.4" y2="662.40"/>
<line x1="124.0" y1="625.60" x2="126.4" y2="625.60"/>
<line x1="124.0" y1="588.80" x2="126.4" y2="588.80"/>
<line x1="124.0" y1="552.00" x2="126.4" y2="552.00"/>
<line x1="124.0" y1="515.20" x2="126.4" y2="515.20"/>
<line x1="131.55" y1="662.4" x2="131.55" y2="664.9"/>
<line x1="146.97" y1="662.4" x2="146.97" y2="664.9"/>
<line x1="162.38" y1="662.4" x2="162.38" y2="664.9"/>
<line x1="177.80" y1="662.4" x2="177.80" y2="664.9"/>
<line x1="193.22" y1="662.4" x2="193.22" y2="664.9"/>
<line x1="208.63" y1="662.4" x2="208.63" y2="664.9"/>
<line x1="224.05" y1="662.4" x2="224.05" y2="664.9"/>
<line x1="239.47" y1="662.4" x2="239.47" y2="664.9"/>
<line x1="254.89" y1="662.4" x2="254.89" y2="664.9"/>
<line x1="270.30" y1="662.4" x2="270.30" y2="664.9"/>
<line x1="285.72" y1="662.4" x2="285.72" y2="664.9"/>
<line x1="301.14" y1="662.4" x2="301.14" y2="664.9"/>
<line x1="316.55" y1="662.4" x2="316.55" y2="664.9"/>
<line x1="331.97" y1="662.4" x2="331.97" y2="664.9"/>
<line x1="347.39" y1="662.4" x2="347.39" y2="664.9"/>
<line x1="362.81" y1="662.4" x2="362.81" y2="664.9"/>
<line x1="378.22" y1="662.4" x2="378.22" y2="664.9"/>
<line x1="393.64" y1="662.4" x2="393.64" y2="664.9"/>
<line x1="409.06" y1="662.4" x2="409.06" y2="664.9"/>
<line x1="424.47" y1="662.4" x2="424.47" y2="664.9"/>
<line x1="439.89" y1="662.4" x2="439.89" y2="664.9"/>
<line x1="455.31" y1="662.4" x2="455.31" y2="664.9"/>
<line x1="470.72" y1="662.4" x2="470.72" y2="664.9"/>
<line x1="486.14" y1="662.4" x2="486.14" y2="664.9"/>
<line x1="501.56" y1="662.4" x2="501.56" y2="664.9"/>
<line x1="516.98" y1="662.4" x2="516.98" y2="664.9"/>
<line x1="532.39" y1="662.4" x2="532.39" y2="664.9"/>
<line x1="547.81" y1="662.4" x2="547.81" y2="664.9"/>
<line x1="563.23" y1="662.4" x2="563.23" y2="664.9"/>
<line x1="578.64" y1="662.4" x2="578.64" y2="664.9"/>
</g>
<g font-size="9" fill="#000" text-anchor="end">
<text x="121.70" y="665.65">0</text>
<text x="121.70" y="628.85">20</text>
<text x="121.70" y="592.05">40</text>
<text x="121.70" y="555.25">60</text>
<text x="121.70" y="518.45">80</text>
</g>
<text transform="translate(107.9 587.3) rotate(-90)" font-size="9" text-anchor="middle" fill="#000">Count</text>
<g font-size="6.08" font-style="italic" fill="#000" stroke="#000" stroke-width="0.1" text-anchor="end">
<text transform="translate(135.25 668.10) rotate(-70)">response to xenobiotic stimulus</text>
<text transform="translate(150.67 668.10) rotate(-70)">positive regulation of MAPK cascade</text>
<text transform="translate(166.08 668.10) rotate(-70)">response to nutrient levels</text>
<text transform="translate(181.50 668.10) rotate(-70)">response to oxidative stress</text>
<text transform="translate(196.92 668.10) rotate(-70)">cellular response to chemical stress</text>
<text transform="translate(212.33 668.10) rotate(-70)">gland development</text>
<text transform="translate(227.75 668.10) rotate(-70)">cellular response to peptide</text>
<text transform="translate(243.17 668.10) rotate(-70)">neuron death</text>
<text transform="translate(258.59 668.10) rotate(-70)">cellular response to oxidative stress</text>
<text transform="translate(274.00 668.10) rotate(-70)">response to reactive oxygen species</text>
<text transform="translate(289.42 668.10) rotate(-70)">protein−DNA complex</text>
<text transform="translate(304.84 668.10) rotate(-70)">DNA packaging complex</text>
<text transform="translate(320.25 668.10) rotate(-70)">membrane raft</text>
<text transform="translate(335.67 668.10) rotate(-70)">membrane microdomain</text>
<text transform="translate(351.09 668.10) rotate(-70)">nucleosome</text>
<text transform="translate(366.50 668.10) rotate(-70)">chromosomal region</text>
<text transform="translate(381.92 668.10) rotate(-70)">nuclear chromosome</text>
<text transform="translate(397.34 668.10) rotate(-70)">plasma membrane raft</text>
<text transform="translate(412.76 668.10) rotate(-70)">caveola</text>
<text transform="translate(428.17 668.10) rotate(-70)">cyclin−dependent protein kinase holoenzyme complex</text>
<text transform="translate(443.59 668.10) rotate(-70)">protein heterodimerization activity</text>
<text transform="translate(459.01 668.10) rotate(-70)">DNA−binding transcription factor binding</text>
<text transform="translate(474.42 668.10) rotate(-70)">protein serine/threonine kinase activity</text>
<text transform="translate(489.84 668.10) rotate(-70)">protein serine kinase activity</text>
<text transform="translate(505.26 668.10) rotate(-70)">RNA polymerase II−specific DNA−binding transcription factor binding</text>
<text transform="translate(520.68 668.10) rotate(-70)">structural constituent of chromatin</text>
<text transform="translate(536.09 668.10) rotate(-70)">phosphatase binding</text>
<text transform="translate(551.51 668.10) rotate(-70)">neurotransmitter receptor activity</text>
<text transform="translate(566.93 668.10) rotate(-70)">nuclear receptor activity</text>
<text transform="translate(582.34 668.10) rotate(-70)">ligand−activated transcription factor activity</text>
</g>
<text x="355.2" y="851.6" font-size="9" text-anchor="middle" fill="#000">Description</text>
<text x="280.1" y="493.8" font-size="9" fill="#000">ONTOLOGY</text>
<rect x="336.6" y="484.9" width="11.6" height="11.9" fill="rgba(230,75,53,0.6)"/>
<text x="353.7" y="493.6" font-size="7.4" fill="#000">BP</text>
<rect x="369.3" y="484.9" width="11.6" height="11.9" fill="rgba(77,187,213,0.6)"/>
<text x="385.6" y="493.6" font-size="7.4" fill="#000">CC</text>
<rect x="402.0" y="484.9" width="11.6" height="11.9" fill="rgba(0,160,135,0.6)"/>
<text x="418.9" y="493.6" font-size="7.4" fill="#000">MF</text>
</svg>
</body></html>
